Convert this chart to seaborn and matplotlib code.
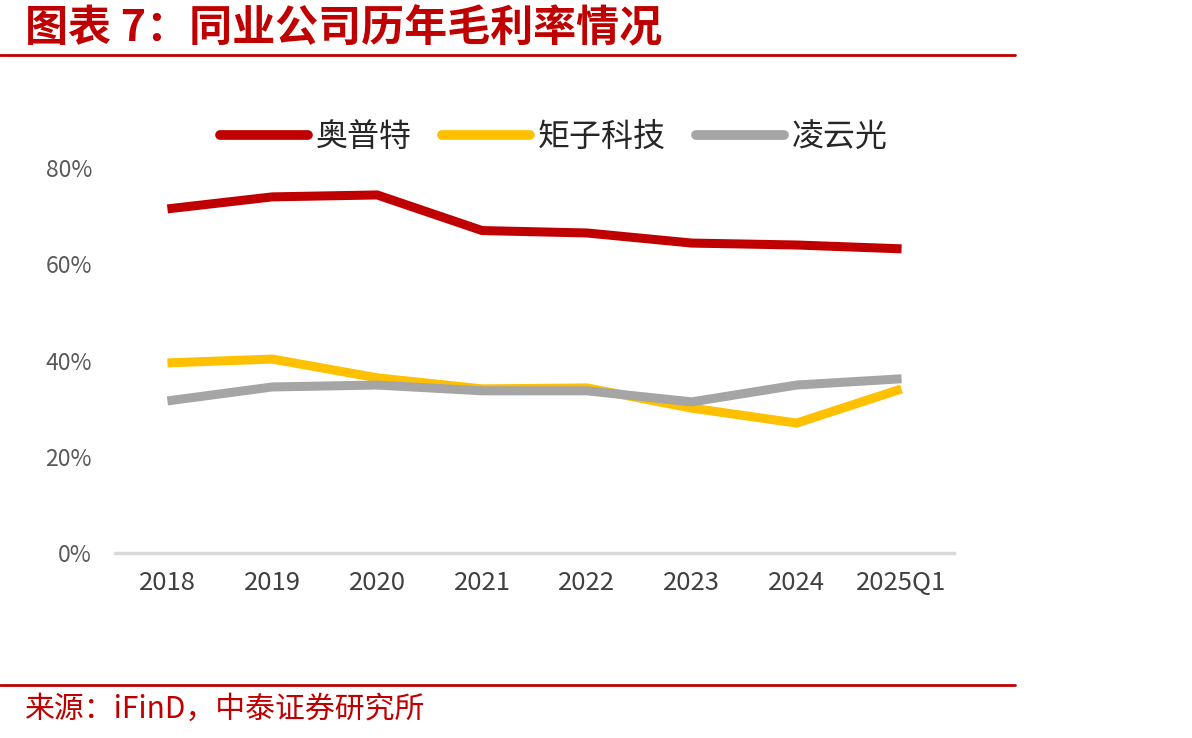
import pandas as pd
import matplotlib
matplotlib.use("Agg")
import matplotlib.pyplot as plt
import seaborn as sns
from matplotlib.lines import Line2D

# 数据（从图中读取，单位 %）
periods = ["2018", "2019", "2020", "2021", "2022", "2023", "2024", "2025Q1"]
aopute = [71.5, 74.0, 74.4, 67.0, 66.5, 64.4, 64.0, 63.2]
juzi = [39.5, 40.3, 36.4, 34.1, 34.3, 30.1, 27.0, 34.1]
lingyun = [31.6, 34.5, 34.9, 33.7, 33.7, 31.4, 34.9, 36.2]

series_names = ["奥普特", "矩子科技", "凌云光"]
colors = ["#C00000", "#FFC000", "#A5A5A5"]
yticks = [0, 20, 40, 60, 80]

df = pd.DataFrame({
    "period": periods * 3,
    "margin": aopute + juzi + lingyun,
    "company": [series_names[0]] * 8 + [series_names[1]] * 8 + [series_names[2]] * 8,
})
df["x"] = df["period"].map({p: i for i, p in enumerate(periods)})

sns.set_theme(style="white")
plt.rcParams["font.family"] = ["Noto Sans CJK SC", "DejaVu Sans"]

fig = plt.figure(figsize=(11.92, 7.38), dpi=100)
ax = fig.add_axes([115 / 1192, 1 - 553 / 738, (954 - 115) / 1192, (553 - 168) / 738])

sns.lineplot(data=df, x="x", y="margin", hue="company", hue_order=series_names,
             palette=colors, linewidth=6.5, legend=False, ax=ax,
             solid_capstyle="butt", solid_joinstyle="miter")

ax.set_xlim(-0.5, 7.5)
ax.set_ylim(0, 80)
ax.set_xticks(range(len(periods)))
ax.set_xticklabels(periods, fontsize=18.5, color="#404040")
ax.set_yticks(yticks)
ax.set_yticklabels([f"{v}%" for v in yticks], fontsize=16.5, color="#595959")
ax.tick_params(axis="x", length=0, pad=12)
ax.tick_params(axis="y", length=0, pad=16.5)
ax.set_xlabel("")
ax.set_ylabel("")
for s in ["top", "right", "left"]:
    ax.spines[s].set_visible(False)
ax.spines["bottom"].set_color("#D9D9D9")
ax.spines["bottom"].set_linewidth(2.5)
ax.grid(False)

handles = [Line2D([0], [0], color=c, linewidth=7, solid_capstyle="round") for c in colors]
leg = fig.legend(handles, series_names, loc="center", bbox_to_anchor=(554 / 1192, 1 - 137 / 738),
                 ncol=3, frameon=False, fontsize=23, handlelength=2.75, handletextpad=0.25,
                 columnspacing=0.95, labelcolor="#262626")
for t in leg.get_texts():
    t.set_fontweight("light")

# 标题与来源
fig.text(25 / 1192, 1 - 28 / 738, "图表 7：同业公司历年毛利率情况", fontsize=31,
         fontweight="bold", color="#C00000", va="center", ha="left")
fig.add_artist(Line2D([0, 1015 / 1192], [1 - 55 / 738] * 2, color="#C00000", linewidth=2))
fig.add_artist(Line2D([0, 1015 / 1192], [1 - 685 / 738] * 2, color="#C00000", linewidth=2))
fig.text(25 / 1192, 1 - 709 / 738, "来源：iFinD，中泰证券研究所", fontsize=21.5,
         fontweight="light", color="#C00000", va="center", ha="left")

fig.savefig("out.png", dpi=100)
